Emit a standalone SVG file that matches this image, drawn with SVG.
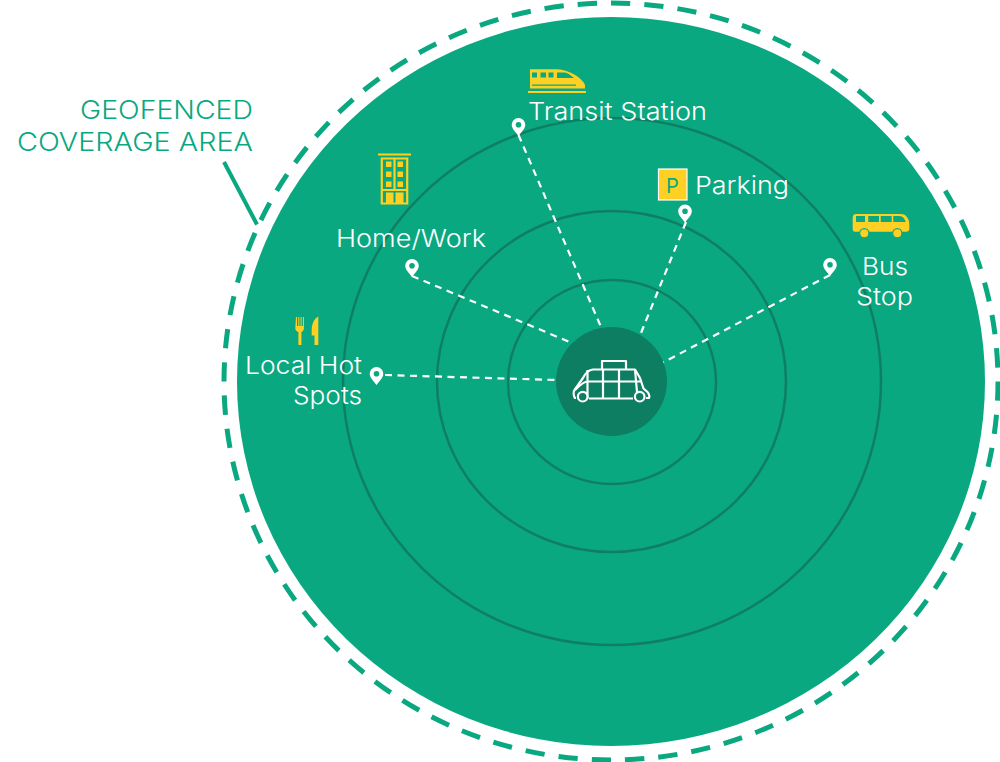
<svg xmlns="http://www.w3.org/2000/svg" width="1000" height="762" viewBox="0 0 1000 762">
<defs>
<style>
.t{font-family:"Inter","Open Sans","Liberation Sans",sans-serif;font-weight:300;font-size:24px;fill:#fff}
.g{fill:#0aa880;font-size:25px}
.ring{fill:none;stroke:#0f7f64;stroke-width:2.500}
.c{fill:none;stroke:#fff;stroke-width:2.200;stroke-dasharray:7 5.500}
.y{fill:#fdd023}
.v{fill:none;stroke:#fff;stroke-width:2.200;stroke-linejoin:round}
.w{fill:#0aa880}
</style>
<path id="pin" d="M0 9C-2.500 5.500-6.800 2-6.800-2.200A6.800 6.800 0 0 1 6.800-2.200C6.800 2 2.500 5.500 0 9ZM0-5A2.800 2.800 0 1 0 0 .6A2.800 2.800 0 1 0 0-5Z" fill="#fff" fill-rule="evenodd"/>
</defs>
<rect width="1000" height="762" fill="#fff"/>
<g id="coverage">
<ellipse cx="611" cy="381.500" rx="387" ry="378.500" fill="none" stroke="#0aa880" stroke-width="5" pathLength="2400" stroke-dasharray="19.300 14.033"/>
<ellipse cx="611" cy="381.500" rx="374" ry="364.500" fill="#0aa880"/>
<ellipse class="ring" cx="612" cy="381.500" rx="269" ry="263.500"/>
<ellipse class="ring" cx="611.500" cy="381.500" rx="174.500" ry="170.500"/>
<ellipse class="ring" cx="612" cy="382" rx="104" ry="102"/>
</g>
<g id="connectors">
<path class="c" d="M518.500 135L601 327"/>
<path class="c" d="M686 222L641 333"/>
<path class="c" d="M412 276L572 343"/>
<path class="c" d="M830 275L660 364"/>
<path class="c" d="M385 375L556 380"/>
<path d="M224 162L257 224.500" fill="none" stroke="#0aa880" stroke-width="4"/>
</g>
<g id="label-geofenced">
<text class="t g" x="80" y="119" textLength="173" lengthAdjust="spacingAndGlyphs">GEOFENCED</text>
<text class="t g" x="17" y="151" textLength="236" lengthAdjust="spacingAndGlyphs">COVERAGE AREA</text>
</g>
<g id="vehicle">
<ellipse cx="611.500" cy="381.500" rx="55.500" ry="54.500" fill="#0e7e62"/>
<path class="v" d="M602 369.500V361H626V369.500"/>
<path class="v" d="M576 398H575C573.500 396 573 392 574.500 390L583 378Q587 370 593 369.500H635L640 378L643.500 388.500L648 392.500Q650 396 649 398H646M589 398.500H633"/>
<path class="v" d="M575 390Q584 381 588 381.500H642M587.500 370V398.500M603 369.500V398.500M619 369.500V398.500M635 369.500L637 392"/>
<circle cx="582.700" cy="396.700" r="4.800" fill="#0e7e62" stroke="#fff" stroke-width="2.200"/>
<circle cx="639.700" cy="396.700" r="4.800" fill="#0e7e62" stroke="#fff" stroke-width="2.200"/>
</g>
<g id="transit-station">
<path class="y" d="M530 69.300H557C570 70 582 78 585 85V88.500H530Z"/>
<rect class="y" x="528" y="91" width="58" height="2"/>
<path class="w" d="M532 72.500h5v5h-5zM540.500 72.500h5.500v5h-5.500zM548.500 72.500h5v5h-5zM557 72.500h8c3 .5 6 3 9 5.500h-17zM532 84.500h44v1.200h-44z"/>
<text class="t" x="528" y="120" textLength="179" lengthAdjust="spacingAndGlyphs">Transit Station</text>
<use href="#pin" x="518.500" y="127"/>
</g>
<g id="parking">
<rect class="y" x="658.500" y="169" width="28.500" height="31" stroke="#fff" stroke-width="1.200"/>
<text x="666" y="192.500" style="font-family:Inter,'Liberation Sans',sans-serif;fill:#0aa880;font-size:20px;font-weight:400">P</text>
<text class="t" x="695" y="194" textLength="94" lengthAdjust="spacingAndGlyphs">Parking</text>
<use href="#pin" x="685" y="213.500"/>
</g>
<g id="home-work">
<rect class="y" x="378" y="153.500" width="33" height="2"/>
<path d="M381.800 158.500H407.200V203.500H381.800ZM394.500 158.500V190M381 190H408" fill="none" stroke="#fdd023" stroke-width="2.200"/>
<path class="y" d="M386 161.500h5.500v5.500h-5.500zM397.500 161.500h5.500v5.500h-5.500zM386 171.500h5.500v5.500h-5.500zM397.500 171.500h5.500v5.500h-5.500zM386 181.500h5.500v5.500h-5.500zM397.500 181.500h5.500v5.500h-5.500zM386 192.500h7.500V204H386zM395.500 192.500h8V204h-8z"/>
<text class="t" x="336" y="247" textLength="150" lengthAdjust="spacingAndGlyphs">Home/Work</text>
<use href="#pin" x="412" y="268"/>
</g>
<g id="bus-stop">
<path class="y" d="M856 214H901C906 214 909.300 219 909.300 224V229Q909.300 231.700 906 231.700H855Q852.700 231.700 852.700 229V218Q852.700 214 856 214Z"/>
<path class="w" d="M856 216h9v6h-9zM868.300 216h10.700v6h-10.700zM880.700 216h11v6h-11zM893.300 216h6.500q4 0 6 6h-12.500z"/>
<circle class="y" cx="864.300" cy="233.300" r="4.600" stroke="#0aa880" stroke-width="1.200"/>
<circle class="y" cx="897.300" cy="233.300" r="4.600" stroke="#0aa880" stroke-width="1.200"/>
<text class="t" x="862" y="275" textLength="46" lengthAdjust="spacingAndGlyphs">Bus</text>
<text class="t" x="856" y="305" textLength="57" lengthAdjust="spacingAndGlyphs">Stop</text>
<use href="#pin" x="830" y="267"/>
</g>
<g id="local-hot-spots">
<path class="y" d="M296 317h1v9h1.300v-9h1v9h1.300v-9h1v9h1.300v-9h1v11.500c0 2-1.500 3-2.500 3.500V345h-3v-13c-1.500-.7-3.100-1.500-3.100-3.500Z"/>
<path class="y" d="M318.300 316.500V345H314.500V335.500H311.700V329C312 323 315 318 318.300 316.500Z"/>
<text class="t" x="245" y="374" textLength="117" lengthAdjust="spacingAndGlyphs">Local Hot</text>
<text class="t" x="293" y="404" textLength="69" lengthAdjust="spacingAndGlyphs">Spots</text>
<use href="#pin" x="376.500" y="376"/>
</g>
</svg>
